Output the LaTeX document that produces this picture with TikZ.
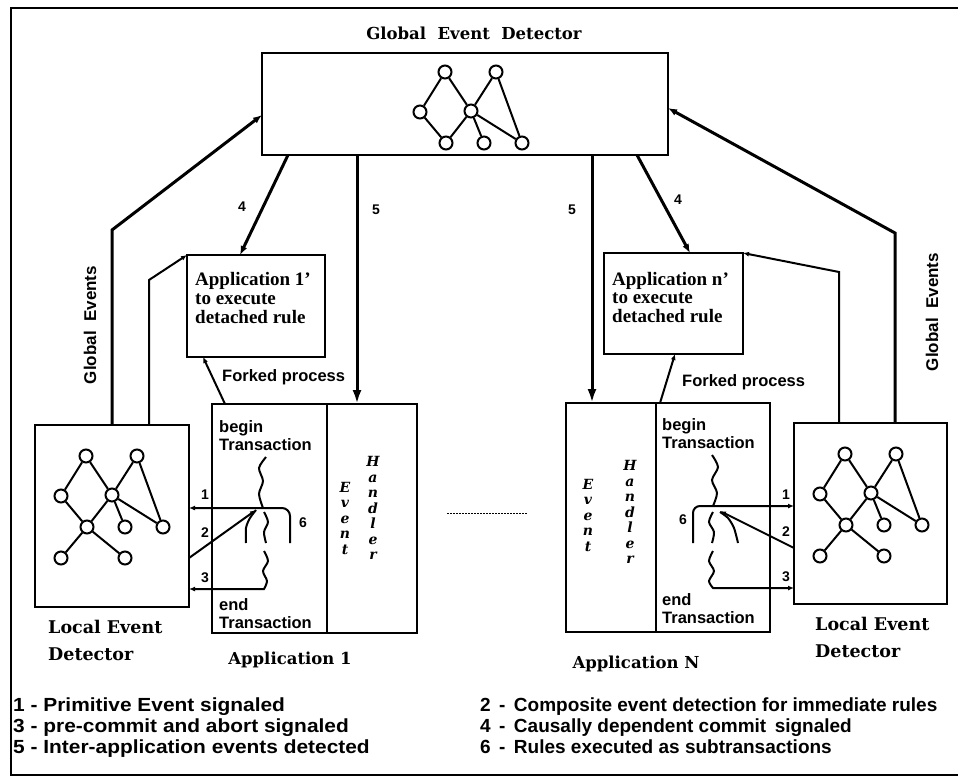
\documentclass[tikz,border=0pt]{standalone}
\usepackage{fontspec}
\newfontfamily\sansf{Liberation Sans}
\newfontfamily\timesf{Liberation Serif}
\newfontfamily\djs{DejaVu Serif}
\usetikzlibrary{arrows.meta,calc}
\newcommand\evgraph[1]{%
  \node[gnode] (#1TL) at (51,31) {};
  \node[gnode] (#1TR) at (102,31) {};
  \node[gnode] (#1ML) at (26,71) {};
  \node[gnode] (#1MC) at (77,70) {};
  \node[gnode] (#1LC) at (52,102) {};
  \node[gnode] (#1LT) at (90,102) {};
  \node[gnode] (#1RR) at (128,102) {};
  \draw[gedge] (#1TL) -- (#1ML);
  \draw[gedge] (#1ML) -- (#1LC);
  \draw[gedge] (#1LC) -- (#1MC);
  \draw[gedge] (#1MC) -- (#1TR);
  \draw[gedge] (#1TL) -- (#1MC);
  \draw[gedge] (#1MC) -- (#1LT);
  \draw[gedge] (#1MC) -- (#1RR);
  \draw[gedge] (#1TR) -- (#1RR);
}
\newcommand\evgraphlow[1]{%
  \node[gnode] (#1BL) at (26,133) {};
  \node[gnode] (#1BR) at (90,133) {};
  \draw[gedge] (#1LC) -- (#1BL);
  \draw[gedge] (#1LC) -- (#1BR);
}
\begin{document}
\begin{tikzpicture}[x=1pt,y=-1pt,
  bx/.style={draw, line width=2.1pt, inner sep=0pt, outer sep=0pt},
  gnode/.style={circle, draw, line width=2pt, minimum size=13pt, inner sep=0pt},
  gedge/.style={line width=2pt},
  conn/.style={line width=2pt},
  heavy/.style={line width=3pt},
  tipS/.style={-{Latex[length=6pt,width=5pt]}},
  tipM/.style={-{Latex[length=9pt,width=7pt]}},
  tipL/.style={-{Latex[length=14pt,width=9pt]}},
  thread/.style={line width=2pt},
  lbl/.style={font=\sansf\bfseries\fontsize{14}{14}\selectfont, inner sep=0pt},
  sanstxt/.style={font=\sansf\bfseries\fontsize{16.5}{16.5}\selectfont, inner sep=0pt, anchor=base west},
  legend/.style={font=\sansf\bfseries\fontsize{19}{19}\selectfont, inner sep=0pt, anchor=base west},
  serifbox/.style={font=\timesf\bfseries\fontsize{19}{19}\selectfont, inner sep=0pt, anchor=base west},
  cmlbl/.style={font=\djs\bfseries\fontsize{17.5}{17.5}\selectfont, inner sep=0pt, anchor=base west},
  ehcol/.style={font=\djs\bfseries\itshape\fontsize{14}{15.5}\selectfont, align=center, inner sep=0pt}
]
\useasboundingbox (0,0) rectangle (958,782);
% frame
\draw[line width=1.5pt] (958,8) -- (11,8) -- (11,775) -- (958,775);

% title
\node[font=\djs\bfseries\fontsize{16.5}{16.5}\selectfont, inner sep=0pt] (title) at (474,33) {Global\ \ Event\ \ Detector};

% boxes
\node[bx, minimum width=406pt, minimum height=102pt] (ged) at (465,104) {};
\node[bx, minimum width=138pt, minimum height=102pt] (app1p) at (256,306) {};
\node[bx, minimum width=139pt, minimum height=101pt] (appnp) at (673.5,303.5) {};
\node[bx, minimum width=115pt, minimum height=229pt] (app1L) at (269.5,518.5) {};
\node[bx, minimum width=90pt, minimum height=229pt] (app1R) at (372,518.5) {};
\node[bx, minimum width=90pt, minimum height=229pt] (appNL) at (611,517.5) {};
\node[bx, minimum width=114pt, minimum height=229pt] (appNR) at (713,517.5) {};
\node[bx, minimum width=154pt, minimum height=182pt] (ledL) at (112,516) {};
\node[bx, minimum width=153pt, minimum height=181pt] (ledR) at (870.5,513.5) {};

% graphs
\begin{scope}[shift={(394,41)}, name prefix=g-]
  \evgraph{}
\end{scope}
\begin{scope}[shift={(35,425)}, name prefix=la-]
  \evgraph{}
  \evgraphlow{}
\end{scope}
\begin{scope}[shift={(794,423)}, name prefix=lb-]
  \evgraph{}
  \evgraphlow{}
\end{scope}

% box texts
\node[serifbox] (t1a) at (195,285) {Application 1’};
\node[serifbox] (t1b) at (195,304) {to execute};
\node[serifbox] (t1c) at (195,323) {detached rule};
\node[serifbox] (tna) at (612,285) {Application n’};
\node[serifbox] (tnb) at (612,303) {to execute};
\node[serifbox] (tnc) at (612,322) {detached rule};

\node[sanstxt] (b1a) at (219,432) {begin};
\node[sanstxt] (b1b) at (219,450) {Transaction};
\node[sanstxt] (e1a) at (219,610) {end};
\node[sanstxt] (e1b) at (219,628) {Transaction};
\node[sanstxt] (bna) at (662,430) {begin};
\node[sanstxt] (bnb) at (662,448) {Transaction};
\node[sanstxt] (ena) at (662,605) {end};
\node[sanstxt] (enb) at (662,623) {Transaction};

\node[ehcol] (eh1E) at (345,518) {E\\v\\e\\n\\t};
\node[ehcol] (eh1H) at (373,508) {H\\a\\n\\d\\l\\e\\r};
\node[ehcol] (ehNE) at (588,515) {E\\v\\e\\n\\t};
\node[ehcol] (ehNH) at (630,512) {H\\a\\n\\d\\l\\e\\r};

% outside labels
\node[cmlbl] (lel1) at (48,633) {Local Event};
\node[cmlbl] (lel2) at (48,660) {Detector};
\node[cmlbl] (ler1) at (815,630) {Local Event};
\node[cmlbl] (ler2) at (815,657) {Detector};
\node[font=\djs\bfseries\fontsize{16.5}{16.5}\selectfont, inner sep=0pt] (ap1) at (290,660) {Application\ 1};
\node[font=\djs\bfseries\fontsize{16.5}{16.5}\selectfont, inner sep=0pt] (apN) at (636,664) {Application\ N};
\node[sanstxt] (fk1) at (222,381) {Forked process};
\node[sanstxt] (fkN) at (682,386) {Forked process};

\node[font=\sansf\bfseries\fontsize{17}{17}\selectfont, inner sep=0pt, rotate=90] (geL) at (90,325) {Global\ \ Events};
\node[font=\sansf\bfseries\fontsize{17}{17}\selectfont, inner sep=0pt, rotate=90] (geR) at (932,312) {Global\ \ Events};

% coordinates
\coordinate (xGL) at (112,0);
\coordinate (cGL) at (112,230);
\coordinate (yGL) at (0,115);
\coordinate (xGR) at (895,0);
\coordinate (cGR) at (895,233);
\coordinate (yGR) at (0,108);
\coordinate (xLA) at (149,0);
\coordinate (cLA) at (149,280);
\coordinate (xLB) at (839,0);
\coordinate (cLB) at (839,272);
\coordinate (x4a) at (288,0);
\coordinate (x4b) at (240,0);
\coordinate (x4c) at (637,0);
\coordinate (x4d) at (690,0);
\coordinate (x5a) at (357,0);
\coordinate (x5b) at (592,0);
\coordinate (xFa) at (225,0);
\coordinate (xFb) at (203,0);
\coordinate (xFc) at (660,0);
\coordinate (xFd) at (675,0);

% main connectors
\draw[heavy, tipM] (ledL.north -| xGL) -- (cGL) -- (ged.west |- yGL);
\draw[heavy, tipM] (ledR.north -| xGR) -- (cGR) -- (ged.east |- yGR);
\draw[conn, tipS] (ledL.north -| xLA) -- (cLA) -- (app1p.north west);
\draw[conn, tipS] (ledR.north -| xLB) -- (cLB) -- (appnp.north east);
\draw[heavy, tipM] (ged.south -| x4a) -- (app1p.north -| x4b);
\draw[heavy, tipM] (ged.south -| x4c) -- (appnp.north -| x4d);
\draw[heavy, tipL] (ged.south -| x5a) -- (app1R.north -| x5a);
\draw[heavy, tipL] (ged.south -| x5b) -- (appNL.north -| x5b);
\draw[conn, tipS] (app1L.north -| xFa) -- (app1p.south -| xFb);
\draw[conn, tipS] (appNR.north -| xFc) -- (appnp.south -| xFd);

\node[lbl] (n4a) at (242,207) {4};
\node[lbl] (n4b) at (678,200) {4};
\node[lbl] (n5a) at (376,210) {5};
\node[lbl] (n5b) at (572,210) {5};

% left threads
\coordinate (y1L) at (0,508);
\coordinate (y2L) at (0,558);
\coordinate (y3L) at (0,589);
\coordinate (j1) at (256,510);
\draw[thread] plot[smooth] coordinates {(266,457) (259,468) (263,481) (259,494) (263,508)};
\draw[thread, tipS, rounded corners=8pt] (290,543) -- (290,508) -- (ledL.east |- y1L);
\draw[thread] plot[smooth] coordinates {(256,510) (250,518) (246,528) (246,543)};
\draw[thread] plot[smooth] coordinates {(264,512) (268,522) (264,532) (266,543)};
\draw[thread, tipS] plot[smooth] coordinates {(264,551) (268,561) (263,571) (267,581) (264,589)} -- (ledL.east |- y3L);
\draw[thread, tipS] (ledL.east |- y2L) -- (j1);
\node[lbl] (l1L) at (205,495) {1};
\node[lbl] (l2L) at (205,533) {2};
\node[lbl] (l3L) at (205,578) {3};
\node[lbl] (l6L) at (303,523) {6};

% right threads
\coordinate (y1R) at (0,506);
\coordinate (y2R) at (0,548);
\coordinate (y3R) at (0,588);
\coordinate (j2) at (720,511);
\draw[thread] plot[smooth] coordinates {(712,455) (718,467) (712,480) (717,493) (713,506)};
\draw[thread, tipS, rounded corners=7pt] (693,543) -- (693,506) -- (ledR.west |- y1R);
\draw[thread] plot[smooth] coordinates {(713,512) (709,522) (714,532) (712,543)};
\draw[thread] plot[smooth] coordinates {(720,512) (728,518) (734,528) (738,543)};
\draw[thread, tipS] plot[smooth] coordinates {(713,551) (709,561) (714,571) (709,581) (713,588)} -- (ledR.west |- y3R);
\draw[thread, tipS] (ledR.west |- y2R) -- (j2);
\node[lbl] (l1R) at (786,495) {1};
\node[lbl] (l2R) at (786,532) {2};
\node[lbl] (l3R) at (786,577) {3};
\node[lbl] (l6R) at (683,520) {6};

% dots between applications
\draw[line width=1pt, dash pattern=on 2pt off 1pt] (447,513) -- (527,513);

% legend
\node[legend, xscale=1.1] (lg1) at (13,711) {1 - Primitive Event signaled};
\node[legend, xscale=1.1] (lg3) at (13,732) {3 - pre-commit and abort signaled};
\node[legend, xscale=1.1] (lg5) at (13,753) {5 - Inter-application events detected};
\node[legend] (lg2) at (480,711) {2 \,- \,Composite event detection for immediate rules};
\node[legend] (lg4) at (480,732) {4 \,- \,Causally dependent commit \,signaled};
\node[legend] (lg6) at (480,753) {6 \,- \,Rules executed as subtransactions};
\end{tikzpicture}
\end{document}
